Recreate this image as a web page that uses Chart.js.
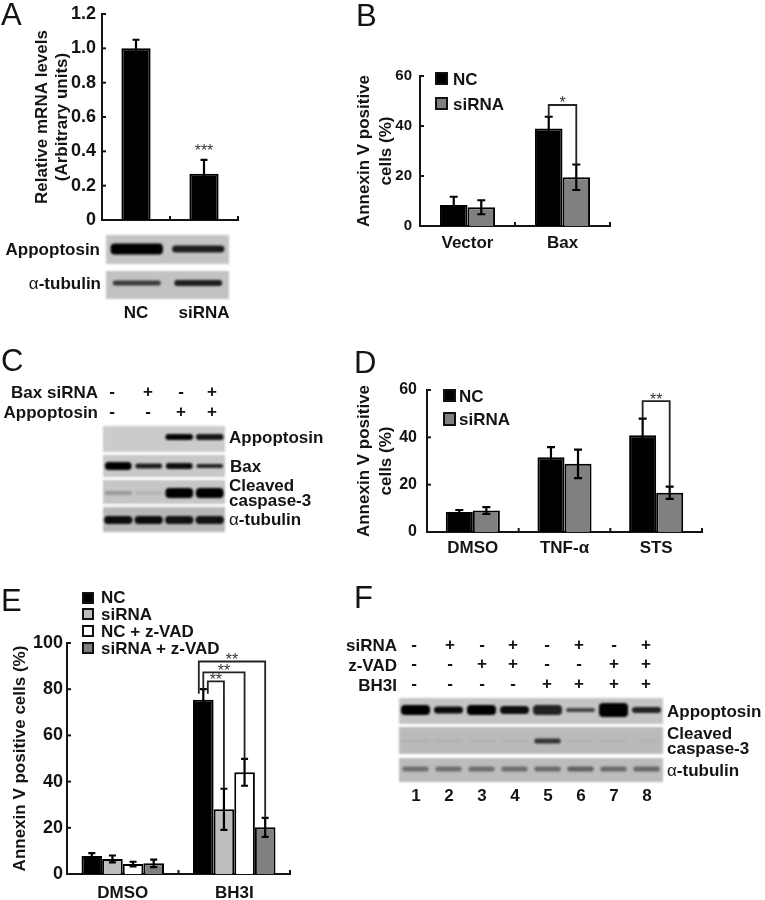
<!DOCTYPE html>
<html><head><meta charset="utf-8">
<script src="https://cdn.jsdelivr.net/npm/chart.js@4"></script>
<style>
html,body{margin:0;padding:0;background:#fff}
#page{position:relative;width:765px;height:900px;overflow:hidden;font-family:'Liberation Sans',Arial,sans-serif;color:#141414;filter:blur(0.45px)}
canvas{position:absolute;display:block}
.t{position:absolute;white-space:nowrap;font-weight:700;line-height:1;transform:translateY(-50%);z-index:5}
.sw{position:absolute;box-sizing:border-box;border:2px solid #111;z-index:5}
.a{font-weight:400}
</style></head><body><div id="page"></div>
<script>
// ---------- Bar chart data ----------
const aCategories=['NC','siRNA'];
const aValues=[1.0,0.27];
const aErrors=[0.05,0.08];
const aTicks=['0','0.2','0.4','0.6','0.8','1.0','1.2'];

const bCategories=['Vector','Bax'];
const bNC=[8.4,39];
const bNCErr=[3.3,4.7];
const bSi=[7.5,19.5];
const bSiErr=[2.8,5.1];

const dCategories=['DMSO','TNF-α','STS'];
const dNC=[8.5,31.6,40.9];
const dNCErr=[0.8,4.3,7];
const dSi=[9.1,28.8,16.6];
const dSiErr=[1.4,6,2.6];

const eCategories=['DMSO','BH3I'];
const eNC=[7.8,75.4];
const eNCErr=[1.2,4.6];
const eSi=[6.5,28];
const eSiErr=[1.5,8.9];
const eNCz=[4.3,44];
const eNCzErr=[1,5.8];
const eSiz=[4.6,20.2];
const eSizErr=[1.6,4.1];

// ---------- Blot data: band thickness and tone per lane ----------
const aBlot1Thick=[11,7],aBlot1Tone=['#000','#1c1c1c'];
const aBlot2Thick=[5,6],aBlot2Tone=['#3a3a3a','#1e1e1e'];
const cBlot1Thick=[0,0,6,6],cBlot1Tone=['#000','#000','#050505','#151515'];
const cBlot2Thick=[8,5,6,4],cBlot2Tone=['#000','#1c1c1c','#0c0c0c','#222'];
const cBlot3Thick=[4,3,10,10],cBlot3Tone=['#9a9a9a','#b0b0b0','#000','#000'];
const cBlot4Thick=[8,8,8,8],cBlot4Tone=['#0c0c0c','#0c0c0c','#111','#111'];
const fBlot1Thick=[10,7,10,8,10,4,14,6],fBlot1Tone=['#000','#080808','#000','#0c0c0c','#222','#444','#000','#222'];
const fBlot2Thick=[2,2,2,2,5,2,2,2],fBlot2Tone=['#aeaeae','#aeaeae','#aeaeae','#aeaeae','#333','#b0b0b0','#aeaeae','#b4b4b4'];
const fBlot3Thick=[5,5,5,5,5,5,5,5],fBlot3Tone=['#6e6e6e','#6e6e6e','#6e6e6e','#6e6e6e','#6a6a6a','#606060','#6a6a6a','#666'];

// ---------- Text data ----------
const cBaxRow=['-','+','-','+'];
const cAppRow=['-','-','+','+'];
const fSiRow=['-','+','-','+','-','+','-','+'];
const fZRow=['-','-','+','+','-','-','+','+'];
const fBhRow=['-','-','-','-','+','+','+','+'];
const fLanes=['1','2','3','4','5','6','7','8'];

const page=document.getElementById('page');
const FONT="'Liberation Sans',Arial,sans-serif";
const INK='#141414';

function txt(x,y,s,o={}){
  const d=document.createElement('div');d.className='t';
  d.innerHTML=s;d.style.top=y+'px';d.style.fontSize=(o.size||17)+'px';
  if(o.weight)d.style.fontWeight=o.weight;
  if(o.align==='right'){d.style.right=(765-x)+'px';}
  else if(o.align==='center'){d.style.left=x+'px';d.style.transform='translate(-50%,-50%)';}
  else d.style.left=x+'px';
  page.appendChild(d);
}
function swatch(x,y,w,h,c){
  const d=document.createElement('div');d.className='sw';
  Object.assign(d.style,{left:x+'px',top:y+'px',width:w+'px',height:h+'px',background:c});
  page.appendChild(d);
}
function mkCanvas(x,y,w,h,z){
  const c=document.createElement('canvas');c.width=w;c.height=h;
  Object.assign(c.style,{left:x+'px',top:y+'px',width:w+'px',height:h+'px',zIndex:z||1});
  page.appendChild(c);return c;
}
function noPad(s){
  s.paddingLeft=s.paddingRight=s.paddingTop=s.paddingBottom=0;
  s._margins={left:0,right:0,top:0,bottom:0};
}

const marks={id:'marks',afterDatasetsDraw(ch,_,o){
  const c=ch.ctx,x=ch.scales.x,y=ch.scales.y;
  c.save();c.strokeStyle=INK;c.lineCap='butt';
  // inward axis ticks
  c.lineWidth=2;
  y.ticks.forEach((t,i)=>{const p=y.getPixelForValue(t.value);c.beginPath();c.moveTo(x.left,p);c.lineTo(x.left+4,p);c.stroke();});
  for(let i=1;i<=ch.data.labels.length;i++){const p=x.getPixelForValue(i-0.5);c.beginPath();c.moveTo(p,y.bottom);c.lineTo(p,y.bottom-4);c.stroke();}
  // error bars
  ch.data.datasets.forEach((ds,di)=>{
    const m=ch.getDatasetMeta(di);
    m.data.forEach((el,i)=>{
      const v=ds.data[i],e=ds.errors[i];
      const y1=y.getPixelForValue(v+e),y2=y.getPixelForValue(v-e);
      c.strokeStyle='#000';c.lineWidth=o.errW||2;
      c.beginPath();c.moveTo(el.x,y1);c.lineTo(el.x,y2);
      const cap=o.cap||4;
      c.moveTo(el.x-cap,y1);c.lineTo(el.x+cap,y1);c.moveTo(el.x-cap,y2);c.lineTo(el.x+cap,y2);c.stroke();
    });
  });
  // significance brackets
  (o.brackets||[]).forEach(b=>{
    const x1=ch.getDatasetMeta(b.fromDs).data[b.cat].x+(b.dx||0);
    const x2=ch.getDatasetMeta(b.toDs).data[b.cat].x;
    const yt=y.getPixelForValue(b.top);
    c.strokeStyle='#222';c.lineWidth=1.8;
    c.beginPath();c.moveTo(x1,y.getPixelForValue(b.fromBottom));c.lineTo(x1,yt);c.lineTo(x2,yt);c.lineTo(x2,y.getPixelForValue(b.toBottom));c.stroke();
    c.fillStyle='#333';c.font='400 16px '+FONT;c.textAlign='center';c.textBaseline='middle';
    c.fillText(b.label,(x1+x2)/2,yt-1);
  });
  (o.stars||[]).forEach(s=>{
    const px=ch.getDatasetMeta(s.ds).data[s.cat].x;
    c.fillStyle='#333';c.font='400 16px '+FONT;c.textAlign='center';c.textBaseline='middle';
    c.fillText(s.label,px,y.getPixelForValue(s.value));
  });
  c.restore();
}};

function barChart(g){
  const W=g.right-g.left+6,H=g.bottom-g.top;
  const canvas=mkCanvas(g.left,g.top,W,H,1);
  new Chart(canvas,{type:'bar',plugins:[marks],
    data:{labels:g.labels,datasets:g.datasets.map(d=>({label:d.label,data:d.data,errors:d.errors,backgroundColor:d.color,borderColor:'#000',borderWidth:2,borderSkipped:'bottom',barPercentage:1,categoryPercentage:g.catPct}))},
    options:{responsive:false,animation:false,
      layout:{autoPadding:false,padding:{top:g.axisTop-g.top,right:6,left:0,bottom:0}},
      plugins:{legend:{display:false},tooltip:{enabled:false},marks:{brackets:g.brackets,stars:g.stars,cap:g.cap,errW:2.2}},
      scales:{
        x:{grid:{display:false,drawTicks:false},border:{color:INK,width:2},
           afterFit:s=>{s.height=g.bottom-g.axisBottom;noPad(s);},
           ticks:{color:INK,padding:g.xPad,maxRotation:0,autoSkip:false,font:{family:FONT,weight:'700',size:g.xSize||17}}},
        y:{min:g.min,max:g.max,grid:{display:false,drawTicks:false},border:{color:INK,width:2},
           afterFit:s=>{s.width=g.axisX-g.left;noPad(s);},
           ticks:{stepSize:g.step,color:INK,padding:g.yPad,font:{family:FONT,weight:'700',size:g.ySize},callback:g.tickLabels?((v,i)=>g.tickLabels[i]):undefined},
           title:{display:true,text:g.title,color:INK,padding:0,font:{family:FONT,weight:'700',size:g.titleSize||17,lineHeight:g.titleLH||1.2}}}
      }}});
}

function blot(x,y,w,h,bg,thick,tone,center,frac,blur){
  const canvas=mkCanvas(x,y,w,h,2);
  canvas.style.background=bg;
  canvas.style.filter='blur('+(blur||0.9)+'px)';
  const lanes=thick.map((_,i)=>String(i+1));
  new Chart(canvas,{type:'bar',
    data:{labels:lanes,datasets:[{data:thick.map(t=>[center-t/2,center+t/2]),backgroundColor:tone,borderWidth:0,borderSkipped:false,borderRadius:4,barPercentage:frac||0.88,categoryPercentage:1}]},
    options:{responsive:false,animation:false,layout:{autoPadding:false,padding:0},
      plugins:{legend:{display:false},tooltip:{enabled:false}},
      scales:{x:{display:false},y:{display:false,min:0,max:h,reverse:true}}}});
}

// ---------- Panel A ----------
barChart({left:32,top:4,right:238,bottom:322,axisX:102,axisTop:14,axisBottom:220,min:0,max:1.2,step:0.2,tickLabels:aTicks,
  labels:aCategories,datasets:[{label:'Level',data:aValues,errors:aErrors,color:'#000'}],catPct:0.43,cap:3.5,xPad:83,yPad:6,ySize:18,
  title:['Relative mRNA levels','(Arbitrary units)'],titleLH:1.2,
  stars:[{cat:1,ds:0,value:0.40,label:'***'}]});
blot(106,235,123,29,'#c4c4c4',aBlot1Thick,aBlot1Tone,14,0.85);
blot(106,271,123,28,'#c2c2c2',aBlot2Thick,aBlot2Tone,12,0.78);
txt(100,249,'Appoptosin',{align:'right'});txt(101,283,'<span class="a">α</span>-tubulin',{align:'right'});

// ---------- Panel B ----------
barChart({left:353,top:62,right:610,bottom:250,axisX:420,axisTop:76,axisBottom:226,min:0,max:60,step:20,
  labels:bCategories,datasets:[{label:'NC',data:bNC,errors:bNCErr,color:'#000'},{label:'siRNA',data:bSi,errors:bSiErr,color:'#808080'}],catPct:0.58,cap:4,xPad:7,yPad:8,ySize:15,
  title:['Annexin V positive','cells (%)'],titleLH:1.3,
  brackets:[{cat:1,fromDs:0,toDs:1,top:48.4,fromBottom:43.7,toBottom:24.4,label:'*'}]});
swatch(435,72,13,13,'#000');txt(453,79,'NC');
swatch(435,97,13,13,'#808080');txt(453,104,'siRNA');

// ---------- Panel C ----------
blot(103,426,122,26,'#cbcbcb',cBlot1Thick,cBlot1Tone,11,0.91);
blot(103,455,122,22,'#c8c8c8',cBlot2Thick,cBlot2Tone,11,0.88);
blot(103,480,122,24,'#c6c6c6',cBlot3Thick,cBlot3Tone,13,0.91);
blot(103,507,122,25,'#b8b8b8',cBlot4Thick,cBlot4Tone,13,0.93);
txt(98,392,'Bax siRNA',{align:'right'});txt(98,412,'Appoptosin',{align:'right'});
[112,148,181,212].forEach((x,i)=>{txt(x,391,cBaxRow[i],{align:'center',size:17});txt(x,411,cAppRow[i],{align:'center',size:17});});
txt(229,437,'Appoptosin');txt(230,466,'Bax');txt(229,485,'Cleaved');txt(229,500,'caspase-3');txt(229,519,'<span class="a">α</span>-tubulin');

// ---------- Panel D ----------
barChart({left:353,top:376,right:702,bottom:560,axisX:427,axisTop:390,axisBottom:532,min:0,max:60,step:20,
  labels:dCategories,datasets:[{label:'NC',data:dNC,errors:dNCErr,color:'#000'},{label:'siRNA',data:dSi,errors:dSiErr,color:'#808080'}],catPct:0.59,cap:4,xPad:6,yPad:10,ySize:16,
  title:['Annexin V positive','cells (%)'],titleLH:1.3,
  brackets:[{cat:2,fromDs:0,toDs:1,top:55.3,fromBottom:47.9,toBottom:19.1,label:'**'}]});
swatch(443,389,13,13,'#000');txt(459,396,'NC');
swatch(443,412,13,14,'#808080');txt(459,419,'siRNA');

// ---------- Panel E ----------
barChart({left:10,top:632,right:290,bottom:900,axisX:67,axisTop:643,axisBottom:874,min:0,max:100,step:20,
  labels:eCategories,datasets:[{label:'NC',data:eNC,errors:eNCErr,color:'#000'},{label:'siRNA',data:eSi,errors:eSiErr,color:'#bdbdbd'},{label:'NC + z-VAD',data:eNCz,errors:eNCzErr,color:'#fff'},{label:'siRNA + z-VAD',data:eSiz,errors:eSizErr,color:'#808080'}],catPct:0.74,cap:3.5,xPad:9,yPad:4,ySize:18,
  title:'Annexin V positive cells (%)',
  brackets:[{cat:1,fromDs:0,toDs:1,top:83.4,fromBottom:78,toBottom:36.8,dx:4.5,label:'**'},
            {cat:1,fromDs:0,toDs:2,top:87.3,fromBottom:80,toBottom:49.7,dx:0,label:'**'},
            {cat:1,fromDs:0,toDs:3,top:92,fromBottom:78,toBottom:24.1,dx:-4.5,label:'**'}]});
swatch(82,592,12,12,'#000');txt(101,597,'NC');
swatch(82,608,12,12,'#bdbdbd');txt(101,614,'siRNA');
swatch(82,625,12,12,'#fff');txt(101,631,'NC + z-VAD');
swatch(82,642,12,12,'#808080');txt(101,648,'siRNA + z-VAD');

// ---------- Panel F ----------
blot(399,698,264,26,'#c4c4c4',fBlot1Thick,fBlot1Tone,12,0.88);
blot(399,727,264,27,'#bababa',fBlot2Thick,fBlot2Tone,14,0.8);
blot(399,758,264,24,'#bcbcbc',fBlot3Thick,fBlot3Tone,11,0.8);
txt(397,645,'siRNA',{align:'right'});txt(397,665,'z-VAD',{align:'right'});txt(397,685,'BH3I',{align:'right'});
[414,450,482,513,547,579,614,646].forEach((x,i)=>{
  txt(x,644,fSiRow[i],{align:'center'});txt(x,663,fZRow[i],{align:'center'});txt(x,683,fBhRow[i],{align:'center'});
});
[416,449,482,515,548,581,614,647].forEach((x,i)=>txt(x,795,fLanes[i],{align:'center'}));
txt(667,711,'Appoptosin');txt(667,733,'Cleaved');txt(667,748,'caspase-3');txt(667,770,'<span class="a">α</span>-tubulin');

// ---------- Panel letters ----------
[['A',1,14],['B',356,15],['C',1,360],['D',354,362],['E',1,600],['F',354,597]].forEach(l=>txt(l[1],l[2],l[0],{size:31,weight:400}));
</script></body></html>
